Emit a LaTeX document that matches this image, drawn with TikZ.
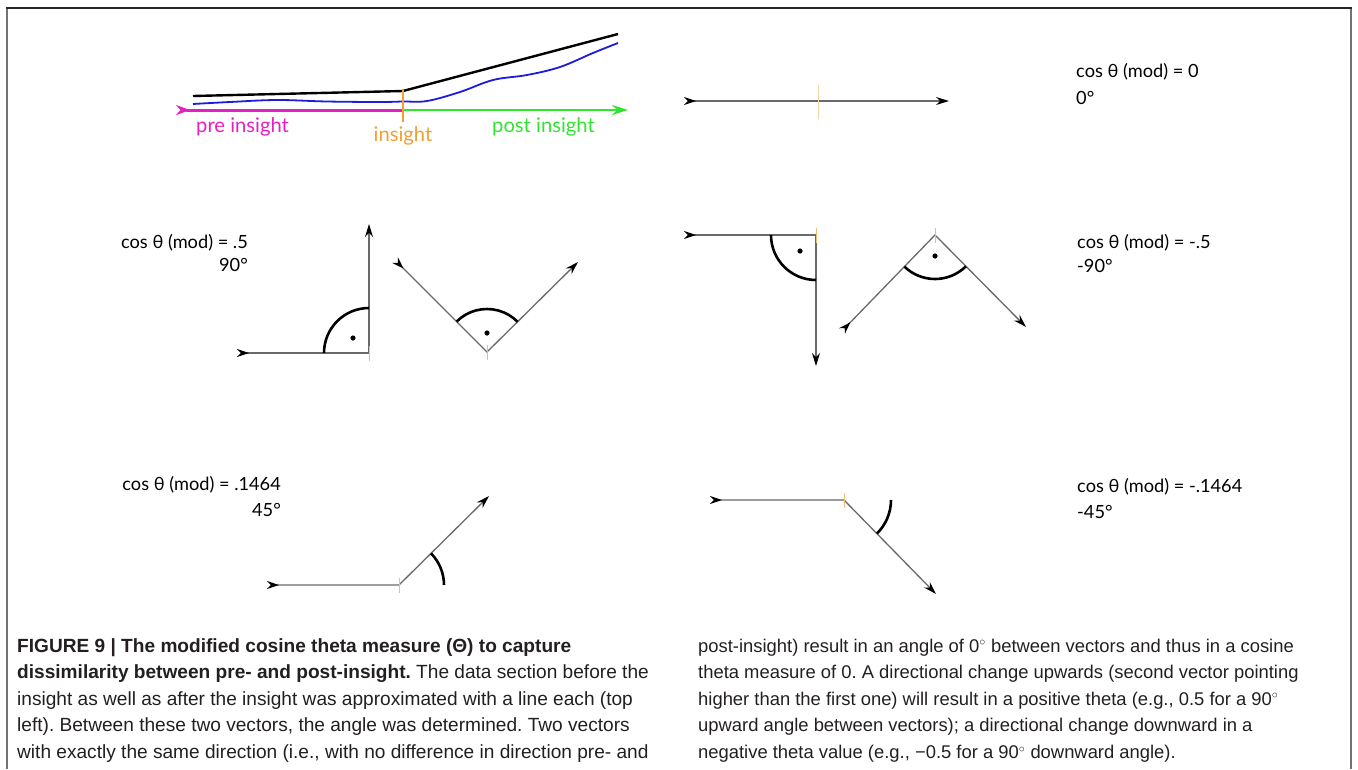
\documentclass[tikz,border=0pt]{standalone}
\usepackage{fontspec}
\setmainfont{Liberation Sans}
\newfontfamily\lblfont{Lato}
\usetikzlibrary{angles, calc, arrows.meta}
\definecolor{preins}{RGB}{228,32,196}
\definecolor{insorange}{RGB}{240,160,48}
\definecolor{postins}{RGB}{48,228,48}
\definecolor{datablue}{RGB}{28,28,220}
\definecolor{vecgray}{RGB}{105,105,105}
\definecolor{captext}{RGB}{35,31,32}
\frenchspacing

\begin{document}
\begin{tikzpicture}[x=1pt, y=1pt,
        % vectors with a tail mark and a head
        vec/.style={draw=vecgray, line width=1.3pt,
            {Stealth[reversed, black, length=12pt, width=8pt]}-{Stealth[black, length=13pt, width=8pt]}},
        mark90/.style={draw, line width=2.6pt, angle radius=45pt},
        jointtick/.style={draw=insorange!70, line width=0.8pt},
        lbl/.style={font=\lblfont\fontsize{18.2}{22}\selectfont, inner sep=0pt},
        ins/.style={font=\lblfont\fontsize{20.2}{24}\selectfont, inner sep=0pt},
        captionbox/.style={font=\fontsize{19.1}{26.6}\selectfont, text=captext, align=left, inner sep=0pt, anchor=north west}]

    \useasboundingbox (0,0) rectangle (1358,-769);

    % frame
    \draw[line width=2pt, black!55] (7,-769) -- (7,-8);
    \draw[line width=2pt, black!55] (1351,-769) -- (1351,-8);
    \draw[line width=2pt, black!85] (6,-8) -- (1352,-8);

    % 1. top left: data and fitted lines
    \coordinate (pre) at (176,-110);
    \coordinate (ik) at (403,-110);
    \coordinate (post) at (628,-110);
    \draw[line width=2.4pt] (193,-96) -- (403,-91) -- (618,-34);
    \draw[datablue, line width=1.8pt] plot[smooth, tension=0.6] coordinates {
        (193,-104) (230,-102) (277,-100) (327,-101.5) (380,-102) (403,-101.5)
        (427,-101) (460,-92) (493,-80) (527,-75) (560,-67) (593,-53) (618,-43)};
    \draw[preins, line width=3pt, {Stealth[reversed, length=14pt, width=10pt]}-] (pre) -- (ik);
    \draw[postins, line width=2.4pt, -{Stealth[length=16pt, width=10pt]}] (ik) -- (post);
    \draw[insorange, line width=1.6pt] ($(ik)+(0,21)$) -- ($(ik)+(0,-12)$);
    \node[ins, text=preins, anchor=west] (tpre) at (196,-127) {pre insight};
    \node[ins, text=insorange] (tins) at (403,-136) {insight};
    \node[ins, text=postins, anchor=west] (tpost) at (492,-127) {post insight};

    % 2. top right: 0 degrees
    \coordinate (za) at (684,-101);
    \coordinate (zk) at (818,-101);
    \coordinate (zb) at (949,-101);
    \draw[vec] (za) -- (zk) -- (zb);
    \draw[insorange!45, line width=0.8pt] ($(zk)+(0,16)$) -- ($(zk)+(0,-18)$);
    \node[lbl, anchor=west] (c0) at (1076,-72) {cos θ (mod) = 0};
    \node[lbl, anchor=west] (d0) at (1076,-98) {0°};

    % 3. middle left: +90 degrees
    \coordinate (ra) at (237,-353);
    \coordinate (rk) at (369,-353);
    \coordinate (rb) at (369,-224);
    \coordinate (va) at (395,-260);
    \coordinate (vk) at (487,-352);
    \coordinate (vb) at (578,-262);
    \draw[vec] (ra) -- (rk) -- (rb);
    \draw[vec] (va) -- (vk) -- (vb);
    \pic[mark90] {angle = rb--rk--ra};
    \pic[mark90, angle radius=43pt] {angle = vb--vk--va};
    \fill ($(rk)+(-16,15)$) circle (2.6);
    \fill ($(vk)+(0,19)$) circle (2.6);
    \node[lbl, anchor=east] (c5) at (248,-243) {cos θ (mod) = .5};
    \node[lbl, anchor=east] (d5) at (248,-265) {90°};

    % 4. middle right: -90 degrees
    \coordinate (na) at (684,-235);
    \coordinate (nk) at (816,-235);
    \coordinate (nb) at (816,-366);
    \coordinate (wa) at (842,-331);
    \coordinate (wk) at (935,-235);
    \coordinate (wb) at (1026,-327);
    \draw[vec] (na) -- (nk) -- (nb);
    \draw[vec] (wa) -- (wk) -- (wb);
    \pic[mark90] {angle = na--nk--nb};
    \pic[mark90, angle radius=44pt] {angle = wa--wk--wb};
    \fill ($(nk)+(-16,-16)$) circle (2.6);
    \fill ($(wk)+(0,-21)$) circle (2.6);
    \node[lbl, anchor=west] (cm5) at (1077,-243) {cos θ (mod) = -.5};
    \node[lbl, anchor=west] (dm5) at (1077,-266) {-90°};

    % 5. bottom left: +45 degrees
    \coordinate (ua) at (267,-585);
    \coordinate (uk) at (399,-585);
    \coordinate (ub) at (489,-496);
    \coordinate (ue) at ($(uk)+(60,0)$);
    \draw[vec] (ua) -- (uk) -- (ub);
    \pic[mark90] {angle = ue--uk--ub};
    \node[lbl, anchor=east] (c14) at (281,-485) {cos θ (mod) = .1464};
    \node[lbl, anchor=east] (d14) at (281,-510) {45°};

    % 6. bottom right: -45 degrees
    \coordinate (da) at (710,-500);
    \coordinate (dk) at (844,-500);
    \coordinate (db) at (936,-594);
    \coordinate (de) at ($(dk)+(60,0)$);
    \draw[vec] (da) -- (dk) -- (db);
    \pic[mark90, angle radius=47pt] {angle = db--dk--de};
    \node[lbl, anchor=west] (cm14) at (1077,-487) {cos θ (mod) = -.1464};
    \node[lbl, anchor=west] (dm14) at (1077,-512) {-45°};

    % orange insight ticks at the joints
    \foreach \k in {rk, vk, nk, wk, uk, dk}
        \draw[jointtick] ($(\k)+(0,-8)$) -- ($(\k)+(0,7)$);

    % caption
    \node[captionbox] (capl) at (17,-638) {%
        \textbf{FIGURE 9 | The modified cosine theta measure (Θ) to capture}\\
        \textbf{dissimilarity between pre- and post-insight.} The data section before the\\
        insight as well as after the insight was approximated with a line each (top\\
        left). Between these two vectors, the angle was determined. Two vectors\\
        with exactly the same direction (i.e., with no difference in direction pre- and};
    \node[captionbox, font=\fontsize{18.4}{26.6}\selectfont] (capr) at (698,-638.5) {%
        post-insight) result in an angle of 0$^\circ$ between vectors and thus in a cosine\\
        theta measure of 0. A directional change upwards (second vector pointing\\
        higher than the first one) will result in a positive theta (e.g., 0.5 for a 90$^\circ$\\
        upward angle between vectors); a directional change downward in a\\
        negative theta value (e.g., −0.5 for a 90$^\circ$ downward angle).};
\end{tikzpicture}
\end{document}
